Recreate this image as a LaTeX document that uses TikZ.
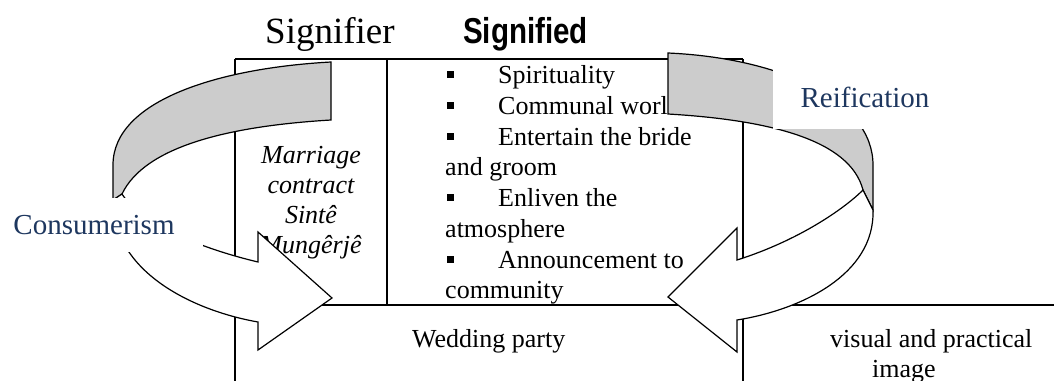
\documentclass[tikz,border=0pt]{standalone}
\usepackage{fontspec}
\setmainfont{Liberation Serif}
\newfontfamily\sigfont[FakeStretch=0.82]{Liberation Sans}
\definecolor{backgray}{RGB}{204,204,204}
\definecolor{navy}{RGB}{30,55,95}
\begin{document}
\begin{tikzpicture}[x=1pt,y=-1pt,
  gridline/.style={line width=1.6pt},
  arr/.style={draw=black, line width=1.2pt, line join=miter},
  body/.style={font=\fontsize{26}{30}\selectfont, inner sep=0pt, anchor=base west},
  ital/.style={font=\fontsize{26}{30}\selectfont\itshape, inner sep=0pt, anchor=base},
  bul/.style={fill=black, inner sep=0pt, minimum size=7pt},
  side/.style={font=\fontsize{29}{33}\selectfont, text=navy, fill=white, inner sep=0pt}]
\useasboundingbox (0,0) rectangle (1054,380);

% table
\draw[gridline] (235,59) -- (743,59);
\draw[gridline] (235,59) -- (235,390);
\draw[gridline] (387,59) -- (387,305);
\draw[gridline] (743,59) -- (743,390);
\draw[gridline] (235,305) -- (1060,305);

% headings
\node[inner sep=0pt, anchor=base west, font=\fontsize{37}{40}\selectfont] (sigr) at (265,43) {Signifier};
\node[inner sep=0pt, anchor=base west, font=\fontsize{36}{40}\selectfont\sigfont\bfseries] (sigd) at (463,43) {Signified};

% signifier column
\node[ital] (m1) at (311,163) {Marriage};
\node[ital] (m2) at (311,193) {contract};
\node[ital] (m3) at (311,223) {Sintê};
\node[ital] (m4) at (311,253) {Mungêrjê};

% signified list
\node[bul] (b1) at (450,74.5) {};
\node[body] (t1) at (498,83) {Spirituality};
\node[bul] (b2) at (450,105.5) {};
\node[body] (t2) at (498,114) {Communal world};
\node[bul] (b3) at (450,136.5) {};
\node[body] (t3) at (498,145) {Entertain the bride};
\node[body] (t4) at (445,175) {and groom};
\node[bul] (b5) at (450,197.5) {};
\node[body] (t5) at (498,206) {Enliven the};
\node[body] (t6) at (445,237) {atmosphere};
\node[bul] (b7) at (450,259.5) {};
\node[body] (t7) at (498,268) {Announcement to};
\node[body] (t8) at (445,298) {community};

% bottom row
\node[body] (wed) at (412,347) {Wedding party};
\node[body] (vis1) at (830,347) {visual and practical};
\node[body] (vis2) at (872,377) {image};

% left circular arrow
\draw[arr, fill=backgray] (331,62) -- (331,120)
  .. controls (230,126) and (145,146) .. (122,194) -- (113,200) -- (113,165)
  .. controls (113,100) and (220,68) .. (331,62) -- cycle;
\draw[arr, fill=white] (113,200) .. controls (112,270) and (190,310) .. (258,322)
  -- (258,350) -- (332,298) -- (258,232) -- (258,262)
  .. controls (195,247) and (140,222) .. (122,194) -- cycle;

% right circular arrow
\draw[arr, fill=backgray] (668,53) -- (668,114)
  .. controls (770,120) and (850,140) .. (863,190) -- (873,210) -- (873,165)
  .. controls (873,100) and (780,58) .. (668,53) -- cycle;
\draw[arr, fill=white] (873,210) .. controls (875,275) and (800,310) .. (737,320)
  -- (737,352) -- (668,297) -- (737,228) -- (737,260)
  .. controls (800,240) and (845,208) .. (863,190) -- cycle;

% side labels
\node[side, minimum width=218pt, minimum height=54pt] (cons) at (94,225.4) {Consumerism};
\node[side, minimum width=184pt, minimum height=62pt] (reif) at (865,97.5) {Reification};
\end{tikzpicture}
\end{document}
